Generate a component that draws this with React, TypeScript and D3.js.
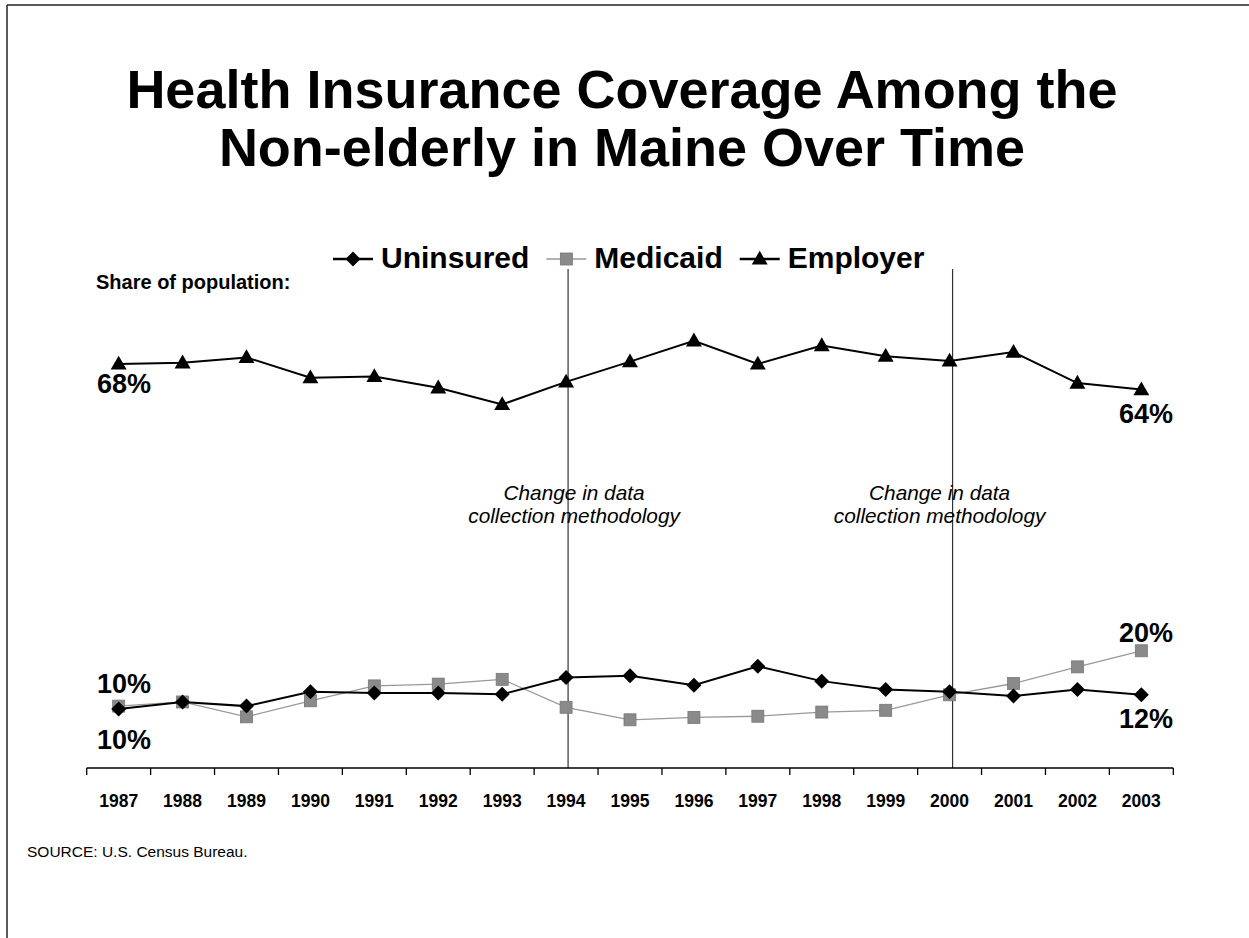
import React, { useMemo } from 'react';
import * as d3 from 'd3';

const years = ['1987','1988','1989','1990','1991','1992','1993','1994','1995','1996','1997','1998','1999','2000','2001','2002','2003'];
const uninsured = [9.9, 11.1, 10.4, 12.8, 12.6, 12.6, 12.4, 15.2, 15.5, 13.9, 17.1, 14.6, 13.2, 12.8, 12.1, 13.2, 12.3];
const medicaid = [10.4, 11.1, 8.6, 11.3, 13.8, 14.1, 14.9, 10.2, 8.1, 8.5, 8.7, 9.4, 9.7, 12.3, 14.2, 17.0, 19.7];
const employer = [67.9, 68.1, 69.0, 65.6, 65.8, 63.9, 61.1, 64.9, 68.3, 71.8, 67.9, 71.0, 69.2, 68.4, 69.9, 64.7, 63.6];
const seriesNames = ['Uninsured', 'Medicaid', 'Employer'];
const changeYears = ['1994', '2000'];
const changeText = ['Change in data', 'collection methodology'];
const startLabels = ['68%', '10%', '10%'];
const endLabels = ['64%', '20%', '12%'];
const titleLines = ['Health Insurance Coverage Among the', 'Non-elderly in Maine Over Time'];

const W = 1249, H = 938;
const FONT = '"Liberation Sans", Arial, Helvetica, sans-serif';

function measure(text: string, font: string) {
  const c = document.createElement('canvas');
  const ctx = c.getContext('2d')!;
  ctx.font = font;
  return ctx.measureText(text).width;
}

function Marker({ kind, x, y }: { kind: string; x: number; y: number }) {
  if (kind === 'Uninsured') {
    const r = 7.5;
    return <path d={`M${x},${y - r}L${x + r},${y}L${x},${y + r}L${x - r},${y}Z`} fill="#000" />;
  }
  if (kind === 'Medicaid') {
    const s = 12;
    return <rect x={x - s / 2} y={y - s / 2} width={s} height={s} fill="#8a8a8a" stroke="#777" strokeWidth={0.8} />;
  }
  const p = d3.symbol().type(d3.symbolTriangle).size(110)();
  return <path d={p as string} transform={`translate(${x},${y + 1})`} fill="#000" />;
}

export default function App() {
  const x = d3.scaleBand<string>().domain(years).range([86.7, 1173.3]).padding(0);
  const y = d3.scaleLinear().domain([0, 80]).range([768, 292]);
  const bw = x.bandwidth();
  const cx = (yr: string) => (x(yr) as number) + bw / 2;

  const data: Record<string, number[]> = { Uninsured: uninsured, Medicaid: medicaid, Employer: employer };
  const line = d3.line<number>().x((_, i) => cx(years[i])).y((v) => y(v));

  const styles: Record<string, { stroke: string; width: number }> = {
    Uninsured: { stroke: '#000', width: 2 },
    Medicaid: { stroke: '#999', width: 1.3 },
    Employer: { stroke: '#000', width: 2 },
  };

  const legendFont = `bold 30px ${FONT}`;
  const legendItems = useMemo(() => {
    let cur = 333;
    return seriesNames.map((n) => {
      const w = measure(n, legendFont);
      const item = { name: n, x: cur };
      cur += 48 + w + 17;
      return item;
    });
  }, []);

  const ticks = d3.range(years.length + 1).map((i) => 86.7 + i * bw);
  const changeOffsets = [2, 3];
  const textOffsets = [8, -10];

  return (
    <svg width={W} height={H} style={{ position: 'absolute', left: 0, top: 0, background: '#fff' }} fontFamily={FONT}>
      <rect x={0} y={0} width={W} height={H} fill="#fff" />
      <line x1={7} y1={5} x2={W} y2={5} stroke="#222" strokeWidth={1.5} />
      <line x1={7} y1={5} x2={7} y2={H} stroke="#222" strokeWidth={1.5} />

      {titleLines.map((t, i) => (
        <text key={t} x={622} y={108 + i * 58} textAnchor="middle" fontSize={54} fontWeight="bold" fill="#000">{t}</text>
      ))}

      {legendItems.map((it) => (
        <g key={it.name}>
          <line x1={it.x} x2={it.x + 40} y1={259} y2={259} stroke={styles[it.name].stroke} strokeWidth={styles[it.name].width + 0.3} />
          <Marker kind={it.name} x={it.x + 20} y={259} />
          <text x={it.x + 48} y={268} fontSize={30} fontWeight="bold" fill="#000">{it.name}</text>
        </g>
      ))}

      <text x={96} y={289} fontSize={20} fontWeight="bold" fill="#000">Share of population:</text>

      {changeYears.map((yr, i) => (
        <g key={yr}>
          <line x1={cx(yr) + changeOffsets[i]} x2={cx(yr) + changeOffsets[i]} y1={269} y2={768} stroke="#333" strokeWidth={1.2} />
          {changeText.map((t, j) => (
            <text key={t} x={cx(yr) + textOffsets[i]} y={500 + j * 23} textAnchor="middle" fontSize={20.8} fontStyle="italic" fill="#000">{t}</text>
          ))}
        </g>
      ))}

      <line x1={86.7} x2={1173.3} y1={768} y2={768} stroke="#000" strokeWidth={1.5} />
      {ticks.map((t, i) => (
        <line key={i} x1={t} x2={t} y1={768} y2={775} stroke="#000" strokeWidth={1.3} />
      ))}
      {years.map((yr) => (
        <text key={yr} x={cx(yr)} y={807} textAnchor="middle" fontSize={17.5} fontWeight="bold" fill="#000">{yr}</text>
      ))}

      {['Medicaid', 'Uninsured', 'Employer'].map((n) => (
        <g key={n}>
          <path d={line(data[n]) as string} fill="none" stroke={styles[n].stroke} strokeWidth={styles[n].width} />
          {data[n].map((v, i) => (
            <Marker key={i} kind={n} x={cx(years[i])} y={y(v)} />
          ))}
        </g>
      ))}

      <text x={97} y={y(employer[0]) + 29} fontSize={27} fontWeight="bold" fill="#000">{startLabels[0]}</text>
      <text x={97} y={y(medicaid[0]) - 13} fontSize={27} fontWeight="bold" fill="#000">{startLabels[1]}</text>
      <text x={97} y={y(uninsured[0]) + 40} fontSize={27} fontWeight="bold" fill="#000">{startLabels[2]}</text>
      <text x={1173} y={y(employer[employer.length - 1]) + 33} textAnchor="end" fontSize={27} fontWeight="bold" fill="#000">{endLabels[0]}</text>
      <text x={1173} y={y(medicaid[medicaid.length - 1]) - 9} textAnchor="end" fontSize={27} fontWeight="bold" fill="#000">{endLabels[1]}</text>
      <text x={1173} y={y(uninsured[uninsured.length - 1]) + 33} textAnchor="end" fontSize={27} fontWeight="bold" fill="#000">{endLabels[2]}</text>

      <text x={27} y={857} fontSize={15.5} fill="#000">SOURCE: U.S. Census Bureau.</text>
    </svg>
  );
}
